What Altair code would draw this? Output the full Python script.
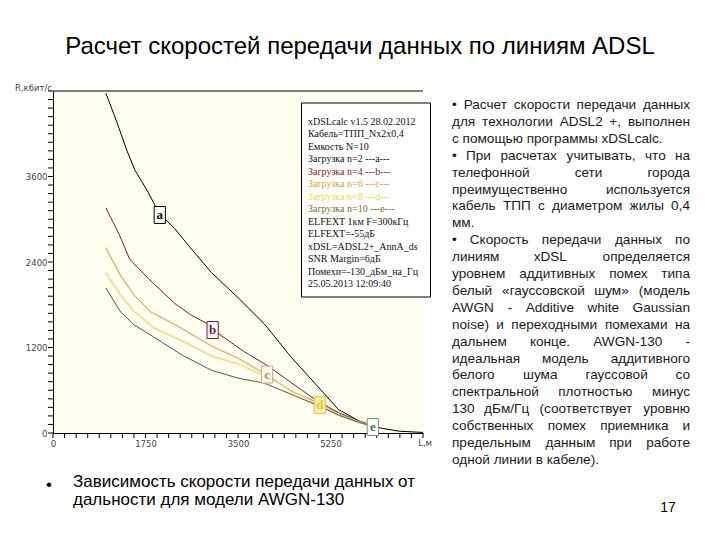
import altair as alt
import pandas as pd

# ---------------- data ----------------
series_names = ["a", "b", "c", "d", "e"]
series_colors = ["#000000", "#7b1c2c", "#c4a472", "#e2da6a", "#55584a"]

dist_a = [1000, 1200, 1400, 1550, 1800, 2000, 2300, 2600, 3000, 3500, 4000, 4500, 5000, 5400, 5800, 6000, 6200, 6550, 7000]
speed_a = [4770, 4380, 3960, 3690, 3380, 3090, 2870, 2600, 2250, 1900, 1530, 1070, 660, 330, 165, 115, 70, 25, 8]

dist_b = [1000, 1250, 1450, 1800, 2300, 2600, 2930, 3120, 3600, 4070, 4500, 4960, 5400, 5800, 6000]
speed_b = [3160, 2790, 2440, 2170, 1820, 1660, 1530, 1400, 1150, 940, 710, 470, 285, 165, 115]

dist_c = [1000, 1270, 1530, 1850, 2420, 3000, 3500, 4040, 4500, 5000, 5400, 5800, 6000]
speed_c = [2600, 2220, 1940, 1700, 1474, 1220, 1050, 818, 590, 430, 270, 160, 112]

dist_d = [1000, 1270, 1530, 1900, 2450, 3000, 3500, 4040, 4500, 5000, 5400, 5800, 6000]
speed_d = [2250, 1940, 1710, 1480, 1290, 1080, 970, 795, 600, 400, 255, 150, 108]

dist_e = [1000, 1270, 1530, 1900, 2450, 3000, 3500, 4000, 4500, 5000, 5400, 5800, 6000]
speed_e = [2035, 1707, 1520, 1350, 1090, 880, 770, 700, 545, 390, 250, 145, 105]

label_dist = [2020, 3020, 4050, 5050, 6050]
label_speed = [3060, 1445, 820, 390, 85]
label_fill = ["#ffffff", "#ffffff", "#fbf8e6", "#f4ee9c", "#ffffff"]
label_stroke = ["#000000", "#7b1c2c", "#c8aa80", "#d8c070", "#7a8a7a"]
label_text_color = ["#000000", "#7b1c2c", "#a09070", "#d8c850", "#3a7a5a"]

x_major = [0, 1750, 3500, 5250]
y_major = [0, 1200, 2400, 3600]
x_minor_step = 218.75
y_minor_step = 120

title_text = "Расчет скоростей передачи данных по линиям ADSL"

legend_lines = [
    "xDSLcalc v1.5 28.02.2012",
    "Кабель=ТПП_Nx2x0,4",
    "Емкость N=10",
    "Загрузка n=2 ---a---",
    "Загрузка n=4 ---b---",
    "Загрузка n=6 ---c---",
    "Загрузка n=8 ---d---",
    "Загрузка n=10 ---e---",
    "ELFEXT 1км F=300кГц",
    "ELFEXT=-55дБ",
    "xDSL=ADSL2+_AnnA_ds",
    "SNR Margin=6дБ",
    "Помехи=-130_дБм_на_Гц",
    "25.05.2013 12:09:40",
]
legend_colors = ["#111111", "#111111", "#111111", "#111111", "#8b1a1a", "#e0a040",
                 "#e6de40", "#707030", "#111111", "#111111", "#111111", "#111111",
                 "#111111", "#111111"]

right_lines = [
    ("• Расчет скорости передачи данных", True),
    ("для технологии ADSL2 +, выполнен", True),
    ("с помощью программы xDSLcalc.", False),
    ("• При расчетах учитывать, что на", True),
    ("телефонной сети города", True),
    ("преимущественно используется", True),
    ("кабель ТПП с диаметром жилы 0,4", True),
    ("мм.", False),
    ("• Скорость передачи данных по", True),
    ("линиям xDSL определяется", True),
    ("уровнем аддитивных помех типа", True),
    ("белый «гауссовской шум» (модель", True),
    ("AWGN - Additive white Gaussian", True),
    ("noise) и переходными помехами на", True),
    ("дальнем конце. AWGN-130 -", True),
    ("идеальная модель аддитивного", True),
    ("белого шума гауссовой со", True),
    ("спектральной плотностью минус", True),
    ("130 дБм/Гц (соответствует уровню", True),
    ("собственных помех приемника и", True),
    ("предельным данным при работе", True),
    ("одной линии в кабеле).", False),
]

bottom_lines = ["Зависимость скорости передачи данных от", "дальности для модели AWGN-130"]
page_number = "17"

# ---------------- layout helpers ----------------
W, H = 370, 342          # plot area
PAD_L, PAD_T = 45, 83    # plot origin on page = (53, 91)
TICK = 5


def cx(px):
    return px - (8 + PAD_L)


def cy(py):
    return py - (8 + PAD_T)


EM = {
    ' ': .278, ',': .278, '.': .278, '-': .333, '+': .584, '(': .333, ')': .333, '/': .278,
    '«': .556, '»': .556, '•': .35,
    'a': .556, 'b': .556, 'c': .5, 'd': .556, 'e': .556, 'f': .278, 'g': .556, 'h': .556,
    'i': .222, 'j': .222, 'k': .5, 'l': .222, 'm': .833, 'n': .556, 'o': .556, 'p': .556,
    'q': .556, 'r': .333, 's': .5, 't': .278, 'u': .556, 'v': .5, 'w': .722, 'x': .5,
    'y': .5, 'z': .5,
    'A': .667, 'D': .722, 'G': .778, 'L': .556, 'N': .722, 'S': .667, 'W': .944,
    'а': .556, 'б': .573, 'в': .531, 'г': .365, 'д': .583, 'е': .556, 'ж': .669, 'з': .458,
    'и': .559, 'й': .559, 'к': .438, 'л': .583, 'м': .688, 'н': .552, 'о': .556, 'п': .542,
    'р': .556, 'с': .5, 'т': .458, 'у': .5, 'ф': .823, 'х': .5, 'ц': .573, 'ч': .521,
    'ш': .802, 'щ': .823, 'ъ': .625, 'ы': .719, 'ь': .521, 'э': .51, 'ю': .75, 'я': .542,
    'Р': .667, 'П': .719, 'С': .722, 'Т': .611,
}


def text_w(s, fs):
    return sum(EM.get(ch, .556) for ch in s) * fs


# ---------------- curve data ----------------
rows = []
for name, ds, sp in [("a", dist_a, speed_a), ("b", dist_b, speed_b), ("c", dist_c, speed_c),
                     ("d", dist_d, speed_d), ("e", dist_e, speed_e)]:
    for i, (d, s) in enumerate(zip(ds, sp)):
        rows.append({"series": name, "dist": d, "speed": s, "order": i})
curves = pd.DataFrame(rows)

labels = pd.DataFrame({"series": series_names, "dist": label_dist, "speed": label_speed,
                       "fill": label_fill, "stroke": label_stroke, "tcol": label_text_color})

xscale = alt.Scale(domain=[0, 7000], nice=False, zero=True, clamp=False)
yscale = alt.Scale(domain=[0, 4800], nice=False, zero=True, clamp=False)

xaxis = alt.Axis(values=x_major, title=None, grid=False, labelOverlap=False, labelFlush=False,
                 format="d", ticks=False, domainColor="#000", labelPadding=TICK + 1,
                 labelFont="DejaVu Sans", labelFontSize=8.5, labelColor="#444")
yaxis = alt.Axis(values=y_major, title=None, grid=False, labelOverlap=False, labelFlush=False,
                 format="d", ticks=False, domainColor="#000", labelPadding=TICK + 1,
                 labelFont="DejaVu Sans", labelFontSize=8.5, labelColor="#444")

X = alt.X("dist:Q", scale=xscale, axis=xaxis)
Y = alt.Y("speed:Q", scale=yscale, axis=yaxis)

color_scale = alt.Scale(domain=series_names, range=series_colors)

# minor / major tick marks of both axes as short rules in data units
x_tick_len = TICK * 4800 / H   # speed units for TICK px
y_tick_len = TICK * 7000 / W   # distance units for TICK px
xt_df = pd.DataFrame({"dist": [i * x_minor_step for i in range(int(7000 / x_minor_step) + 1)]})
xt_df["speed"] = 0.0
xt_df["lo"] = -x_tick_len
yt_df = pd.DataFrame({"speed": [float(v) for v in range(0, 4801, y_minor_step)]})
yt_df["dist"] = 0.0
yt_df["lo"] = -y_tick_len
x_ticks_layer = alt.Chart(xt_df).mark_rule(color="#000", strokeWidth=1).encode(
    x=X, y=Y, y2="lo:Q")
y_ticks_layer = alt.Chart(yt_df).mark_rule(color="#000", strokeWidth=1).encode(
    y=Y, x=X, x2="lo:Q")

glow = alt.Chart(curves).transform_filter(
    alt.FieldOneOfPredicate(field="series", oneOf=["c", "d"])
).mark_line(strokeWidth=3.5, color="#f8f4d2", opacity=0.9).encode(
    x=X, y=Y, detail="series:N", order="order:Q")

lines = alt.Chart(curves).mark_line(strokeWidth=1).encode(
    x=X, y=Y,
    color=alt.Color("series:N", scale=color_scale, legend=None),
    order="order:Q")

top_rule = alt.Chart(pd.DataFrame({"speed": [4800]})).mark_rule(color="#000", strokeWidth=1).encode(
    y=Y, x=alt.value(0), x2=alt.value(W))

box_path = "M-0.33,-0.5 L0.33,-0.5 L0.33,0.5 L-0.33,0.5 Z"
boxes = alt.Chart(labels).mark_point(shape=box_path, size=1156, filled=True, strokeWidth=1, opacity=1).encode(
    x=X, y=Y,
    fill=alt.Fill("fill:N", scale=None),
    stroke=alt.Stroke("stroke:N", scale=None))
box_text = alt.Chart(labels).mark_text(font="Liberation Serif", fontWeight="bold", fontSize=13,
                                       baseline="middle", align="center").encode(
    x=X, y=Y,
    text="series:N",
    color=alt.Color("tcol:N", scale=None))

# legend box
legend_box = alt.Chart(pd.DataFrame({"k": [0]})).mark_rect(fill="#ffffff", stroke="#000", strokeWidth=1).encode(
    x=alt.value(cx(301.5)), x2=alt.value(cx(430.5)), y=alt.value(cy(103)), y2=alt.value(cy(297)))
leg_df = pd.DataFrame({"t": legend_lines, "col": legend_colors,
                       "px": [cx(308)] * len(legend_lines),
                       "py": [cy(121.7 + i * 12.5) for i in range(len(legend_lines))]})
legend_text = alt.Chart(leg_df).mark_text(font="Liberation Serif", fontSize=10, align="left",
                                          baseline="middle").encode(
    x=alt.X("px:Q", scale=None), y=alt.Y("py:Q", scale=None), text="t:N",
    color=alt.Color("col:N", scale=None))

# axis captions
cap_df = pd.DataFrame({"t": ["R,кбит/с", "L,м"], "px": [cx(52), cx(432)], "py": [cy(88), cy(443)]})
captions = alt.Chart(cap_df).mark_text(font="DejaVu Sans", fontSize=8.5, color="#444",
                                       align="right", baseline="middle").encode(
    x=alt.X("px:Q", scale=None), y=alt.Y("py:Q", scale=None), text="t:N")

# title
title_df = pd.DataFrame({"t": [title_text], "px": [cx(360)], "py": [cy(47)]})
title_layer = alt.Chart(title_df).mark_text(font="Liberation Sans", fontSize=24, color="#000",
                                            align="center", baseline="middle").encode(
    x=alt.X("px:Q", scale=None), y=alt.Y("py:Q", scale=None), text="t:N")

# right column (justified by placing words)
FS = 13.6
L_EDGE, R_EDGE = 452, 690
left_rows, center_rows, right_rows = [], [], []
for i, (line, just) in enumerate(right_lines):
    py = cy(105 + i * 16.9)
    if not just:
        left_rows.append({"t": line, "px": cx(L_EDGE), "py": py})
        continue
    words = line.split(" ")
    widths = [text_w(w, FS) for w in words]
    gap = (R_EDGE - L_EDGE - sum(widths)) / (len(words) - 1)
    pos = L_EDGE
    for j, (w, wd) in enumerate(zip(words, widths)):
        if j == 0:
            left_rows.append({"t": w, "px": cx(L_EDGE), "py": py})
        elif j == len(words) - 1:
            right_rows.append({"t": w, "px": cx(R_EDGE), "py": py})
        else:
            center_rows.append({"t": w, "px": cx(pos + wd / 2), "py": py})
        pos += wd + gap


def col_layer(rows_, align):
    return alt.Chart(pd.DataFrame(rows_)).mark_text(font="Liberation Sans", fontSize=FS, color="#1a1a1a",
                                                    align=align, baseline="middle").encode(
        x=alt.X("px:Q", scale=None), y=alt.Y("py:Q", scale=None), text="t:N")


right_left = col_layer(left_rows, "left")
right_center = col_layer(center_rows, "center")
right_right = col_layer(right_rows, "right")

# bottom bullet text
bot_df = pd.DataFrame({"t": ["•"] + bottom_lines,
                       "px": [cx(46), cx(73), cx(73)],
                       "py": [cy(485), cy(482), cy(500)]})
bottom_layer = alt.Chart(bot_df).mark_text(font="Liberation Sans", fontSize=17, color="#000",
                                           align="left", baseline="middle").encode(
    x=alt.X("px:Q", scale=None), y=alt.Y("py:Q", scale=None), text="t:N")

pn_df = pd.DataFrame({"t": [page_number], "px": [cx(668)], "py": [cy(508)]})
pn_layer = alt.Chart(pn_df).mark_text(font="Liberation Sans", fontSize=14, color="#000",
                                      align="center", baseline="middle").encode(
    x=alt.X("px:Q", scale=None), y=alt.Y("py:Q", scale=None), text="t:N")

chart = alt.layer(
    glow, lines, top_rule, x_ticks_layer, y_ticks_layer, boxes, box_text, legend_box, legend_text,
    captions, title_layer, right_left, right_center, right_right, bottom_layer, pn_layer
).properties(
    width=W, height=H,
    autosize=alt.AutoSizeParams(type="none"),
    padding={"left": PAD_L, "top": PAD_T, "right": 280, "bottom": 90},
    background="#ffffff",
).configure_view(
    fill="#fefef1", stroke=None
)

chart.save("out.html", embed_options={"renderer": "svg", "actions": False})
